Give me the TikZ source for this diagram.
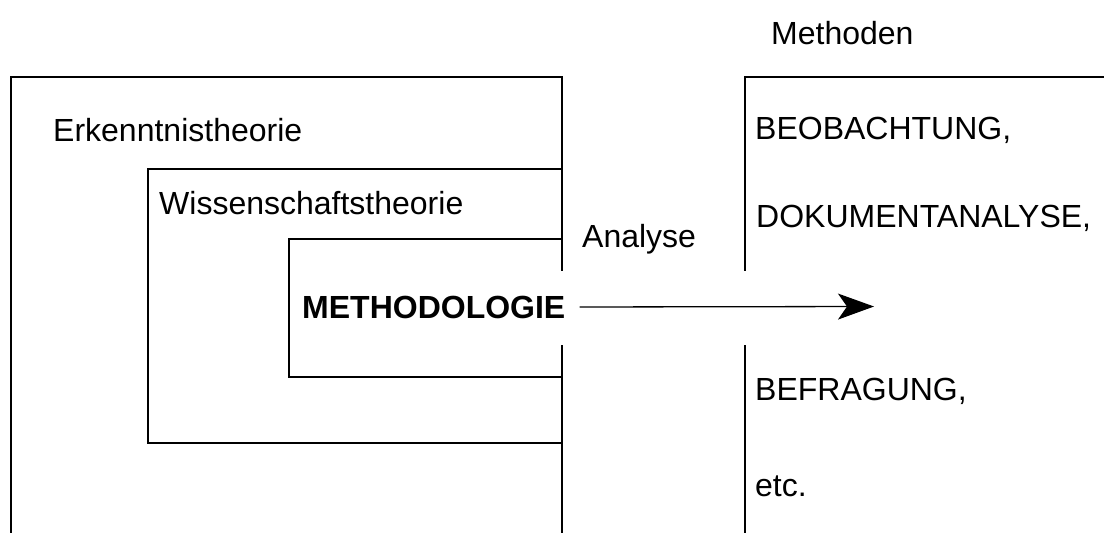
\documentclass[tikz,border=0pt]{standalone}
\usepackage{fontspec}
\setmainfont{Liberation Sans}
\usetikzlibrary{arrows.meta}
\tikzset{
  frame/.style={line width=1.3pt, line cap=rect},
  lbl/.style={anchor=base west, inner sep=0pt, font=\fontsize{32}{38}\selectfont},
  boldlbl/.style={lbl, font=\fontsize{32}{38}\selectfont\bfseries},
  flow/.style={line width=1.3pt, -{Stealth[length=36pt, width=26pt, inset=9pt]}}
}
\begin{document}
\begin{tikzpicture}[x=1pt,y=-1pt]
\useasboundingbox (0,0) rectangle (1104,533);
% left nested frames
\draw[frame] (11,533) -- (11,77) -- (562,77) -- (562,270);
\draw[frame] (562,346) -- (562,533);
\draw[frame] (562,169) -- (148,169) -- (148,443) -- (562,443);
\draw[frame] (562,239) -- (289,239) -- (289,377) -- (562,377);
% right bracket
\draw[frame] (1104,77) -- (745,77) -- (745,270);
\draw[frame] (745,346) -- (745,533);
% labels
\node[lbl] (erk) at (53,141) {Erkenntnistheorie};
\node[lbl] (wiss) at (159,214) {Wissenschaftstheorie};
\node[boldlbl] (meth) at (302,318) {METHODOLOGIE};
\node[lbl] (ana) at (582,247) {Analyse};
\node[lbl] (mtd) at (771,44) {Methoden};
\node[lbl] (beo) at (755,139) {BEOBACHTUNG,};
\node[lbl] (dok) at (756,227) {DOKUMENTANALYSE,};
\node[lbl] (bef) at (755,400) {BEFRAGUNG,};
\node[lbl] (etc) at (755,496) {etc.};
% arrow
\coordinate (tip) at (874,306.5);
\draw[flow] ([xshift=14pt]meth.east) -- (tip);
\end{tikzpicture}
\end{document}
